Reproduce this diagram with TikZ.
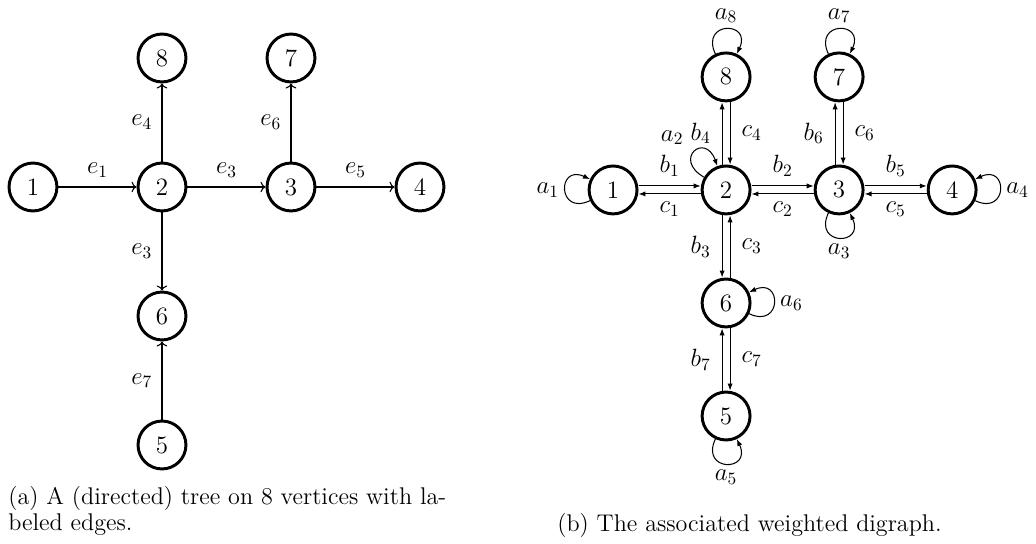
\documentclass[tikz,border=0pt]{standalone}
\usepackage{tikz}
\usetikzlibrary{arrows.meta, positioning}
\tikzset{
  vtx/.style     = {circle, draw, line width=1.7pt, minimum size=27.6pt,
                    inner sep=0pt, font=\Large},
  lbl/.style     = {font=\Large},
  tedge/.style   = {->, line width=0.6pt},
  wedge/.style   = {-{Latex[length=4pt, width=3pt]}, line width=0.6pt},
  selfloop/.style= {wedge, loop, min distance=21pt},
  capt/.style    = {font=\fontsize{13.9}{15}\selectfont, align=left, inner sep=0pt},
}

\begin{document}
\begin{tikzpicture}
    \useasboundingbox (0,0) rectangle (596.7pt,-312.8pt);

    % (a) the tree
    \begin{scope}[shift={(93.3pt,-107.7pt)}, x=74.3pt, y=74.3pt]
        \node[vtx] (t1) at (-1,0)  {1};
        \node[vtx] (t2) at (0,0)   {2};
        \node[vtx] (t3) at (1,0)   {3};
        \node[vtx] (t4) at (2,0)   {4};
        \node[vtx] (t8) at (0,1)   {8};
        \node[vtx] (t7) at (1,1)   {7};
        \node[vtx] (t6) at (0,-1)  {6};
        \node[vtx] (t5) at (0,-2)  {5};
        \foreach \a/\b/\l/\p in {t1/t2/e_1/above, t2/t3/e_3/above, t3/t4/e_5/above,
                                 t2/t8/e_4/left, t3/t7/e_6/left, t2/t6/e_3/left, t5/t6/e_7/left}
            {\draw[tedge] (\a) -- node[lbl, \p=2pt] {$\l$} (\b);}
    \end{scope}

    % (b) the weighted digraph
    \begin{scope}[shift={(418.2pt,-109.4pt)}, x=65.1pt, y=65.1pt]
        \node[vtx] (d1) at (-1,0)  {1};
        \node[vtx] (d2) at (0,0)   {2};
        \node[vtx] (d3) at (1,0)   {3};
        \node[vtx] (d4) at (2,0)   {4};
        \node[vtx] (d8) at (0,1)   {8};
        \node[vtx] (d7) at (1,1)   {7};
        \node[vtx] (d6) at (0,-1)  {6};
        \node[vtx] (d5) at (0,-2)  {5};
        % horizontal pairs
        \foreach \a/\b/\i in {d1/d2/1, d2/d3/2, d3/d4/5}{
            \draw[wedge] ([yshift=2.3pt]\a.east) -- node[lbl, above=2pt] {$b_\i$} ([yshift=2.3pt]\b.west);
            \draw[wedge] ([yshift=-2.3pt]\b.west) -- node[lbl, below=1pt] {$c_\i$} ([yshift=-2.3pt]\a.east);
        }
        % vertical pairs, tail below head
        \foreach \a/\b/\i in {d2/d8/4, d3/d7/6, d5/d6/7}{
            \draw[wedge] ([xshift=-2.3pt]\a.north) -- node[lbl, left=3pt] {$b_\i$} ([xshift=-2.3pt]\b.south);
            \draw[wedge] ([xshift=2.3pt]\b.south) -- node[lbl, right=3pt] {$c_\i$} ([xshift=2.3pt]\a.north);
        }
        \draw[wedge] ([xshift=-2.3pt]d2.south) -- node[lbl, left=3pt] {$b_3$} ([xshift=-2.3pt]d6.north);
        \draw[wedge] ([xshift=2.3pt]d6.north) -- node[lbl, right=3pt] {$c_3$} ([xshift=2.3pt]d2.south);
        % loops
        \draw[selfloop] (d1) to[out=205, in=155] node[lbl, left] {$a_1$} (d1);
        \draw[selfloop] (d2) to[out=150, in=110] node[lbl, above left=0.5pt and 2.6pt] {$a_2$} (d2);
        \draw[selfloop] (d3) to[out=245, in=295] node[lbl, below] {$a_3$} (d3);
        \draw[selfloop] (d4) to[out=-25, in=25]  node[lbl, right] {$a_4$} (d4);
        \draw[selfloop] (d5) to[out=245, in=295] node[lbl, below] {$a_5$} (d5);
        \draw[selfloop] (d6) to[out=-25, in=25]  node[lbl, right] {$a_6$} (d6);
        \draw[selfloop] (d7) to[out=115, in=65]  node[lbl, above] {$a_7$} (d7);
        \draw[selfloop] (d8) to[out=115, in=65]  node[lbl, above] {$a_8$} (d8);
    \end{scope}

    % captions
    \node[capt, anchor=base west] (capa) at (4.6pt,-305.3pt)
        {(a) A (directed) tree on 8 vertices with la-\\beled edges.};
    \node[capt, anchor=base west] (capb) at (320.8pt,-306pt)
        {(b) The associated weighted digraph.};
\end{tikzpicture}
\end{document}
